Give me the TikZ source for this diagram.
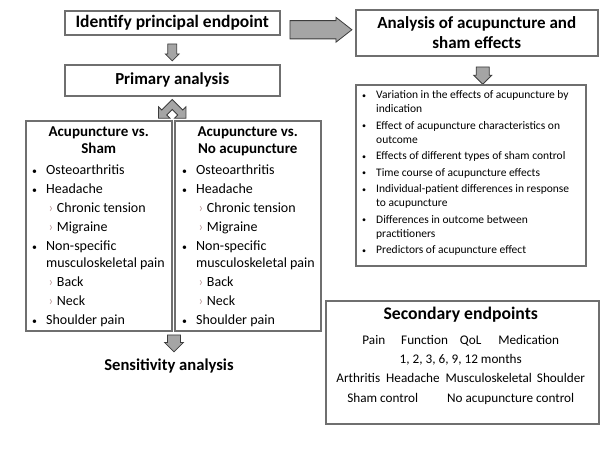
\documentclass[tikz,border=0pt]{standalone}
\usepackage{fontspec}
\setmainfont{Carlito}
\usetikzlibrary{shapes.arrows}
\definecolor{G1}{HTML}{6F6F6F}
\definecolor{G2}{HTML}{A5A5A5}
\definecolor{G3}{HTML}{3C3C3C}
\definecolor{P1}{HTML}{BF9F9F}
\newcommand{\bul}{\raisebox{0.5pt}{\scalebox{0.7}{\textbullet}}}
\newcommand{\sitem}{\hspace{2.5pt}{\color{P1}›}\hspace{3.5pt}}

\begin{document}
\begin{tikzpicture}[x=1pt,y=-1pt]
\tikzstyle{b} = [draw=G1,line width=1.5pt,inner sep=0pt,anchor=north west]
\tikzstyle{t} = [font=\fontsize{15}{17}\selectfont\bfseries,align=center,inner sep=0pt]
\tikzstyle{l} = [anchor=north west,inner sep=0pt]
\tikzstyle{da} = [single arrow,draw=G3,fill=G2,line width=0.8pt,shape border rotate=270,anchor=tail,inner sep=3pt,minimum width=14pt,minimum height=17pt,single arrow head extend=2pt]
\def\conds{\bul & Osteoarthritis\\
\bul & Headache\\
& \sitem Chronic tension\\
& \sitem Migraine\\
\bul & Non-specific\\[-2pt]
& musculoskeletal pain\\
& \sitem Back\\
& \sitem Neck\\
\bul & Shoulder pain}
\useasboundingbox (0,0) rectangle (600,450);

% primary endpoint
\node[b,t,font=\fontsize{17.5}{17}\selectfont\bfseries,minimum width=215pt,minimum height=24pt] (ident) at (64,10) {Identify principal endpoint};
\node[da] (a1) at ([yshift=-8pt]ident.south) {};
\node[b,t,font=\fontsize{16.8}{17}\selectfont\bfseries,minimum width=215pt,minimum height=31pt] (primary) at (64,64) {Primary analysis};
\filldraw[fill=G2,draw=G3,line width=0.8pt,shift={(primary.south)}]
  (0,3) -- (-10.5,13.5) -- (-13.7,10.3) -- (-13.7,21.7) -- (-2.3,21.7) -- (-5.5,18.5) -- (0,13)
  -- (5.5,18.5) -- (2.3,21.7) -- (13.7,21.7) -- (13.7,10.3) -- (10.5,13.5) -- cycle;

% the two comparisons
\node[b,minimum width=146pt,minimum height=210pt] (sham) at (25,120) {};
\node[b,minimum width=146pt,minimum height=210pt] (noacu) at (174,120) {};
\node[t,anchor=north] (shamttl) at ([yshift=-6.8pt]sham.north) {Acupuncture vs.\\Sham};
\node[t,anchor=north] (noacuttl) at ([yshift=-6.8pt]noacu.north) {Acupuncture vs.\\No acupuncture};
\node[l,font=\fontsize{14}{19}\selectfont] (shamlst) at ([xshift=7pt,yshift=-41pt]sham.north west)
  {\begin{tabular}{@{}p{14pt}@{}l@{}}\conds\end{tabular}};
\node[l,font=\fontsize{14}{19}\selectfont] (noacults) at ([xshift=8pt,yshift=-41pt]noacu.north west)
  {\begin{tabular}{@{}p{14pt}@{}l@{}}\conds\end{tabular}};
\node[da,minimum width=19pt,inner sep=4pt] (a4) at ([xshift=1.5pt,yshift=-3pt]sham.south east) {};
\node[t,font=\fontsize{16.6}{17}\selectfont\bfseries] (sens) at ([xshift=-5pt,yshift=-13pt]a4.tip) {Sensitivity analysis};

% acupuncture and sham effects
\node[single arrow,draw=G3,fill=G2,line width=0.8pt,anchor=tail,inner sep=5pt,minimum width=25pt,minimum height=62pt,single arrow tip angle=76,single arrow head extend=2pt] (a2) at ([xshift=9pt,yshift=-7pt]ident.east) {};
\node[b,t,font=\fontsize{17}{20}\selectfont\bfseries,minimum width=242pt,minimum height=46pt] (analysis) at (355,9) {Analysis of acupuncture and\\sham effects};
\node[da,minimum width=18pt,inner sep=5pt,minimum height=13pt] (a3) at ([xshift=6pt,yshift=-10pt]analysis.south) {};
\node[b,minimum width=230pt,minimum height=181pt] (effects) at (355,84) {};
\node[l,font=\fontsize{11.5}{16.5}\selectfont] (effectslst) at ([xshift=7pt,yshift=-3.1pt]effects.north west)
  {\begin{tabular}{@{}p{14pt}@{}l@{}}
  \bul & Variation in the effects of acupuncture by\\[-2.5pt]
  & indication\\
  \bul & Effect of acupuncture characteristics on\\[-2.5pt]
  & outcome\\
  \bul & Effects of different types of sham control\\
  \bul & Time course of acupuncture effects\\
  \bul & Individual-patient differences in response\\[-2.5pt]
  & to acupuncture\\
  \bul & Differences in outcome between\\[-2.5pt]
  & practitioners\\
  \bul & Predictors of acupuncture effect
  \end{tabular}};

% secondary endpoints
\node[b,minimum width=273pt,minimum height=123pt] (second) at (325,300) {};
\node[anchor=north,align=center,inner sep=0pt,font=\fontsize{13.2}{19.3}\selectfont] (secondtxt) at ([xshift=-1.5pt,yshift=-6.7pt]second.north)
  {{\fontsize{17.7}{19.3}\selectfont\bfseries Secondary endpoints}\\[5.7pt]
  Pain\hspace{16pt}Function\hspace{12pt}QoL\hspace{17pt}Medication\\
  1, 2, 3, 6, 9, 12 months\\
  Arthritis\hspace{6pt}Headache\hspace{6pt}Musculoskeletal\hspace{5pt}Shoulder\\
  Sham control\hspace{29pt}No acupuncture control};
\end{tikzpicture}
\end{document}
